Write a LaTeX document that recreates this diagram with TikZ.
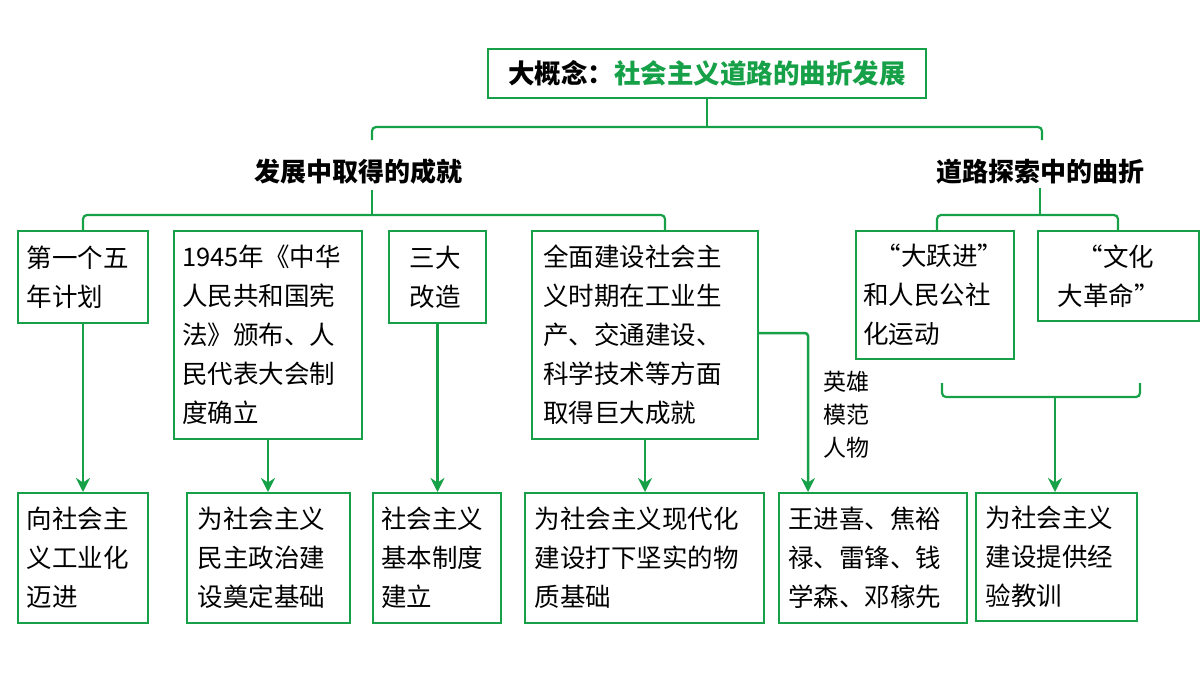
\documentclass[tikz,border=0pt]{standalone}
\usepackage{fontspec}
\setmainfont{Noto Sans CJK SC}
\usetikzlibrary{arrows.meta}
\definecolor{gr}{RGB}{22,160,72}
\begin{document}
\begin{tikzpicture}[x=1pt,y=-1pt,
  box/.style={draw=gr,line width=2pt,anchor=north west,inner sep=0pt,align=left,font=\fontsize{25.5}{39}\selectfont},
  ln/.style={draw=gr,line width=2.2pt,rounded corners=4pt},
  arr/.style={draw=gr,line width=2.5pt,-{Stealth[length=14pt,width=14pt]}},
  head/.style={font=\fontsize{26}{30}\selectfont\bfseries}]
\useasboundingbox (0,0) rectangle (1200,675);
\node[box,minimum width=438pt,minimum height=49pt,font=\fontsize{26.5}{30}\selectfont\bfseries] (title) at (487,48) {大概念：\textcolor{gr}{社会主义道路的曲折发展}};
\node[head] (h1) at (358,172) {发展中取得的成就};
\node[head] (h2) at (1040,172) {道路探索中的曲折};
\draw[ln] (372,140) -- (372,127) -- (1042,127) -- (1042,140);
\draw[ln] (title.south) -- (707,127);
\draw[ln] (83,230) -- (83,215) -- (665,215) -- (665,230);
\draw[ln] (372,190) -- (372,215);
\draw[ln] (937,230) -- (937,215) -- (1118,215) -- (1118,230);
\draw[ln] (h2.south) -- (1040,215);
% top row
\node[box,minimum width=130pt,minimum height=92pt,text width=112pt] (b1) at (17,230) {第一个五\\年计划};
\node[box,minimum width=188pt,minimum height=208pt,text width=172pt] (b2) at (173,230) {1945年《中华\\人民共和国宪\\法》颁布、人\\民代表大会制\\度确立};
\node[box,minimum width=97pt,minimum height=92pt,text width=56pt] (b3) at (388,230) {三大\\改造};
\node[box,minimum width=226pt,minimum height=208pt,text width=204pt] (b4) at (531,230) {全面建设社会主\\义时期在工业生\\产、交通建设、\\科学技术等方面\\取得巨大成就};
\node[box,minimum width=158pt,minimum height=128pt,text width=144pt] (b5) at (855,230) {\hspace*{0.5em}“大跃进”\\和人民公社\\化运动};
\node[box,minimum width=161pt,minimum height=90pt,text width=122pt] (b6) at (1037,230) {\hspace*{0.8em}“文化\\大革命”};
% bottom row
\node[box,minimum width=130pt,minimum height=130pt,text width=112pt] (c1) at (17,492) {向社会主\\义工业化\\迈进};
\node[box,minimum width=163pt,minimum height=130pt,text width=142pt] (c2) at (186,492) {为社会主义\\民主政治建\\设奠定基础};
\node[box,minimum width=128pt,minimum height=130pt,text width=112pt] (c3) at (372,492) {社会主义\\基本制度\\建立};
\node[box,minimum width=239pt,minimum height=130pt,text width=220pt] (c4) at (524,492) {为社会主义现代化\\建设打下坚实的物\\质基础};
\node[box,minimum width=188pt,minimum height=130pt,text width=170pt] (c5) at (778,492) {王进喜、焦裕\\禄、雷锋、钱\\学森、邓稼先};
\node[box,minimum width=161pt,minimum height=128pt,text width=142pt] (c6) at (975,492) {为社会主义\\建设提供经\\验教训};
% arrows
\draw[arr] (b1.south) -- (b1.south |- c1.north);
\draw[arr] (b2.south) -- (b2.south |- c2.north);
\draw[arr] (b3.south) -- (b3.south |- c3.north);
\draw[arr] (645,438) -- (645,492);
\coordinate (k) at (808,333);
\draw[arr,rounded corners=3pt] (757,333) -- (k) -- (808,492);
\node[font=\fontsize{23}{33}\selectfont,align=left,anchor=north west] (lab) at (820,368) {英雄\\模范\\人物};
\draw[ln] (942,383) -- (942,397) -- (1140,397) -- (1140,383);
\coordinate (m) at (1055,397);
\draw[arr] (m) -- (1055,492);
\end{tikzpicture}
\end{document}
